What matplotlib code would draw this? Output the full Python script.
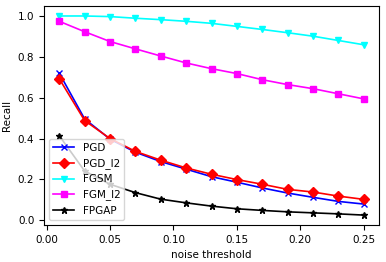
import matplotlib
matplotlib.use("Agg")
import matplotlib.pyplot as plt

thresholds = [0.01, 0.03, 0.05, 0.07, 0.09, 0.11, 0.13, 0.15, 0.17, 0.19, 0.21, 0.23, 0.25]

pgd = [0.72, 0.496, 0.397, 0.333, 0.287, 0.250, 0.213, 0.186, 0.158, 0.133, 0.112, 0.092, 0.079]
pgd_l2 = [0.693, 0.488, 0.400, 0.337, 0.294, 0.256, 0.225, 0.199, 0.176, 0.151, 0.138, 0.118, 0.102]
fgsm = [1.0, 1.0, 0.997, 0.989, 0.982, 0.974, 0.964, 0.949, 0.934, 0.918, 0.901, 0.880, 0.859]
fgm_l2 = [0.974, 0.923, 0.875, 0.839, 0.804, 0.770, 0.742, 0.718, 0.688, 0.664, 0.644, 0.619, 0.594]
fpgap = [0.414, 0.241, 0.176, 0.135, 0.103, 0.085, 0.069, 0.056, 0.048, 0.041, 0.036, 0.031, 0.025]

plt.rcParams['font.size'] = 7.5

fig = plt.figure(figsize=(3.86, 2.62), dpi=100)
ax = fig.add_axes([0.114, 0.141, 0.868, 0.836])

lw = 1.2
ms = 4.8
ax.plot(thresholds, pgd, color="blue", marker="x", lw=lw, ms=ms, label="PGD")
ax.plot(thresholds, pgd_l2, color="red", marker="D", lw=lw, ms=ms, label="PGD_l2")
ax.plot(thresholds, fgsm, color="cyan", marker="v", lw=lw, ms=ms, label="FGSM")
ax.plot(thresholds, fgm_l2, color="magenta", marker="s", lw=lw, ms=ms, label="FGM_l2")
ax.plot(thresholds, fpgap, color="black", marker="*", lw=lw, ms=ms, label="FPGAP")

ax.set_xlabel("noise threshold")
ax.set_ylabel("Recall")
ax.set_xticks([0.0, 0.05, 0.10, 0.15, 0.20, 0.25])
ax.set_yticks([0.0, 0.2, 0.4, 0.6, 0.8, 1.0])
ax.legend(loc="lower left")

fig.savefig("out.png", dpi=100)
